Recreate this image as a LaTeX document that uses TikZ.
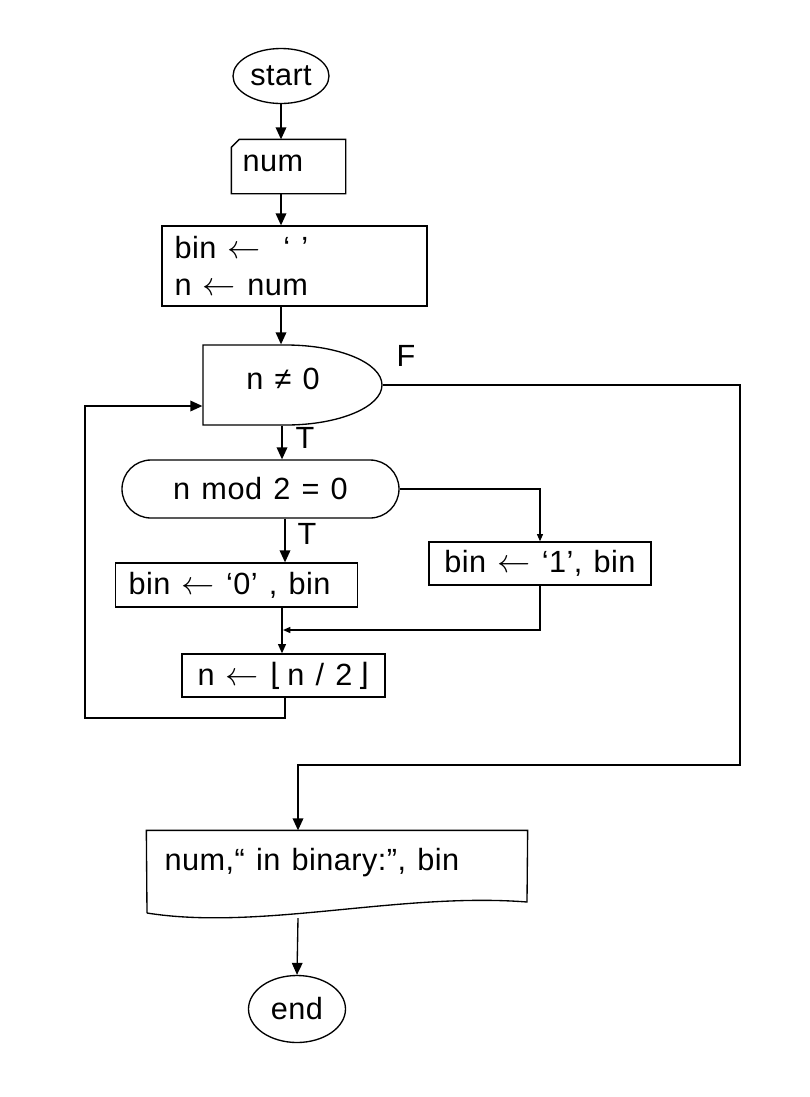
\documentclass[tikz,border=0pt]{standalone}
\usepackage{fontspec}
\setmainfont{Liberation Sans}[LetterSpace=1.5,WordSpace=1.25]
\newfontfamily\djv{DejaVu Sans}
\usetikzlibrary{arrows.meta,shapes.geometric,shapes.misc}
\newdimen\px \px=0.75pt
\newcommand{\larr}{\ensuremath{\leftarrow}}
\begin{document}
\begin{tikzpicture}[x=0.75pt,y=-0.75pt,line width=1pt,
  every node/.style={font=\fontsize{23}{28}\selectfont,inner sep=0pt},
  frame/.style={draw,rectangle},
  ghost/.style={rectangle},
  ar/.style={-{Triangle[length=9pt,width=8pt]}},
  mar/.style={-{Triangle[length=7pt,width=6pt]}},
  sar/.style={-{Triangle[length=5.5pt,width=4.5pt]}}]
\useasboundingbox (0,0) rectangle (810,1097);
\coordinate (col) at (282,0);
\coordinate (colb) at (285,0);
% start
\node[draw,ellipse,minimum width=96*\px,minimum height=55*\px] (start) at (281,76) {start};
% input num
\node[ghost,minimum width=113*\px,minimum height=53*\px] (num) at (288.5,166.5) {};
\draw (num.south west) -- ([yshift=-8*\px]num.north west) -- ([xshift=8*\px]num.north west) -- (num.north east) -- (num.south east) -- cycle;
\node[anchor=west] (numt) at (242,163) {num};
% init
\node[frame,minimum width=265*\px,minimum height=80*\px] (init) at (294.5,266) {};
\node[anchor=base west] (l1) at (174,258) {bin \larr\ \ ‘ ’};
\node[anchor=base west] (l2) at (174,295) {n \larr\ num};
% decision n != 0
\node[ghost,minimum width=179*\px,minimum height=80*\px] (dec) at (292.5,385) {};
\draw (286,425) -- (203,425) -- (203,345) -- (286,345)
  .. controls (339,345) and (382,363) .. (382,385)
  .. controls (382,407) and (339,425) .. (286,425);
\node (dect) at (283,379) {n ≠ 0};
\node (flab) at (406,356) {F};
% mod test
\node[draw,rounded rectangle,minimum width=277*\px,minimum height=58*\px] (mod) at (260.5,489) {n mod 2 = 0};
\node (t1) at (305,438) {T};
\node (t2) at (307,534) {T};
% branches
\node[frame,minimum width=242*\px,minimum height=44*\px] (b0) at (236.5,585) {};
\node[anchor=west] (b0t) at (128,585) {bin \larr\ ‘0’ , bin};
\node[frame,minimum width=222*\px,minimum height=43*\px] (b1) at (540,563.5) {bin \larr\ ‘1’, bin};
\node[frame,minimum width=203*\px,minimum height=43*\px] (nbox) at (283.5,675.5) {n \larr\ {\djv ⌊}\,n / 2\,{\djv ⌋}};
% output
\node[ghost,minimum width=380*\px,minimum height=82*\px] (out) at (337,872) {};
\draw (147,913) -- (out.north west) -- (out.north east) -- (527,902)
  .. controls (400,892) and (260,931) .. (147,913);
\node[anchor=base west] (outt) at (164,870) {num,“ in binary:”, bin};
% end
\node[draw,ellipse,minimum width=97*\px,minimum height=67*\px] (end) at (297,1009) {end};
% helper coordinates
\coordinate (lb) at (85,718);
\coordinate (lt) at (85,406);
\coordinate (fr) at (740,765);
\coordinate (oin) at (298,0);
\coordinate (mg) at (283,630);
\coordinate (wv) at (298,918);
% connectors
\draw[ar] (start.south) -- (start.south |- num.north);
\draw[ar] (start.south |- num.south) -- (start.south |- init.north);
\draw[ar] (start.south |- init.south) -- (start.south |- dec.north);
\draw[ar] (col |- dec.south) -- (col |- mod.north);
\draw[ar] (colb |- mod.south) -- (colb |- b0.north);
\draw[sar] (mod.east) -| (b1.north);
\draw[mar] (col |- b0.south) -- (col |- nbox.north);
\draw[sar] (b1.south) |- (mg);
\draw[ar] (colb |- nbox.south) |- (lb) -- (lt) -- (lt -| dec.west);
\draw[ar] (dec.east) -| (fr) -- (fr -| oin) -- (oin |- out.north);
\draw[ar] (wv) -- (end.north);
\end{tikzpicture}
\end{document}
